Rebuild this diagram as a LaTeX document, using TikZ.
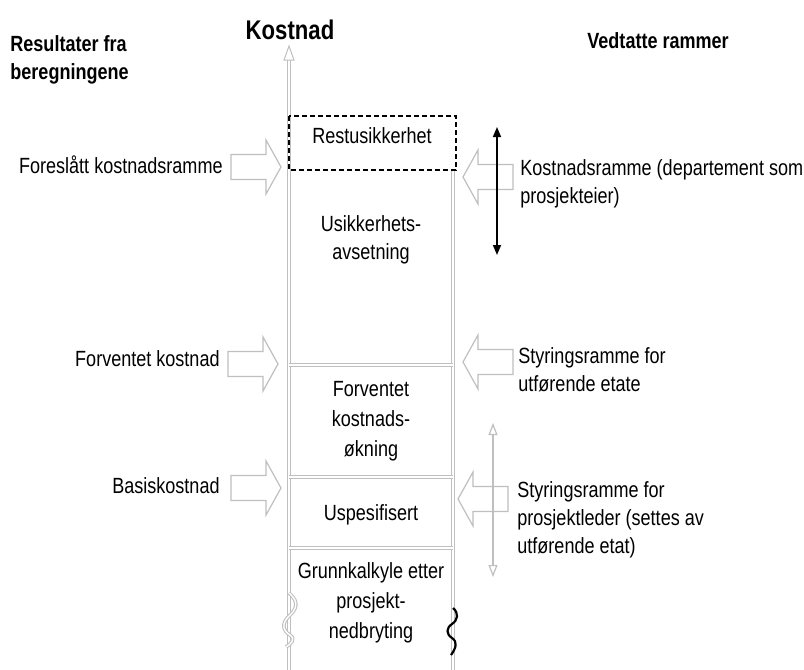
\documentclass[tikz,border=0pt]{standalone}
\usepackage{fontspec}
\setmainfont{Liberation Sans}[FakeStretch=0.82]
\usetikzlibrary{arrows.meta}
\newcommand\blockArrowRight[2]{%
  \draw[blockarrow] ({#1-50},{#2-12.5}) -- ({#1-15},{#2-12.5}) -- ({#1-15},{#2-27}) -- (#1,#2)
    -- ({#1-15},{#2+27}) -- ({#1-15},{#2+12.5}) -- ({#1-50},{#2+12.5}) -- cycle;}
\newcommand\blockArrowLeft[2]{%
  \draw[blockarrow] ({#1+50},{#2-12.5}) -- ({#1+15},{#2-12.5}) -- ({#1+15},{#2-27}) -- (#1,#2)
    -- ({#1+15},{#2+27}) -- ({#1+15},{#2+12.5}) -- ({#1+50},{#2+12.5}) -- cycle;}
\begin{document}
\begin{tikzpicture}[x=0.5pt,y=-0.5pt,
  lbl/.style={font=\fontsize{11}{14}\selectfont, inner sep=0pt},
  collbl/.style={font=\fontsize{11}{15}\selectfont, inner sep=0pt},
  hdr/.style={font=\fontsize{11}{14}\selectfont\bfseries, inner sep=0pt},
  colline/.style={draw=gray!50, double=white, line width=0.55pt, double distance=0.7pt},
  blockarrow/.style={draw=gray!50, line width=0.6pt, fill=white},
  dashbox/.style={draw=black, line width=0.9pt, dash pattern=on 2.5pt off 1.5pt},
]
\useasboundingbox (0,0) rectangle (804,670);
% coordinates
\coordinate (axB) at (289,670);
\coordinate (axT) at (289,60);
\coordinate (rT) at (453,170);
\coordinate (rB) at (453,670);
% column lines
\draw[colline] (axB) -- (axT);
\draw[colline] (rT) -- (rB);
\draw[draw=gray!50, line width=0.5pt, fill=white] (284,60) -- (289,46) -- (294,60) -- cycle;
\coordinate (s1L) at (289,365); \coordinate (s1R) at (453,365);
\coordinate (s2L) at (289,477); \coordinate (s2R) at (453,477);
\coordinate (s3L) at (289,548); \coordinate (s3R) at (453,548);
\draw[colline] (s1L) -- (s1R);
\draw[colline] (s2L) -- (s2R);
\draw[colline] (s3L) -- (s3R);
% dashed box
\draw[dashbox] (289,116) rectangle (456,170);
% wavy lines
\draw[colline]
  (289,593) .. controls (300,602) and (296,610) .. (289,616)
  .. controls (282,623) and (282,630) .. (290,635)
  .. controls (296,639) and (291,644) .. (286,647);
\draw[black, line width=1.1pt]
  (453,608) .. controls (459,613) and (458,620) .. (452,624)
  .. controls (446,628) and (446,634) .. (452,638)
  .. controls (458,642) and (456,648) .. (451,655);
% block arrows
\blockArrowRight{281}{167}
\blockArrowRight{278}{364}
\blockArrowRight{281}{488}
\blockArrowLeft{463}{177}
\blockArrowLeft{463}{362}
\blockArrowLeft{458}{499}
% vertical double arrows
\coordinate (baT) at (497,127); \coordinate (baB) at (497,255);
\draw[black, line width=0.8pt, {Triangle[length=5pt,width=4pt]}-{Triangle[length=5pt,width=4pt]}] (baT) -- (baB);
\coordinate (gaT) at (493,423); \coordinate (gaB) at (493,577);
\draw[gray!50, line width=0.6pt, {Triangle[open,length=6pt,width=4.5pt]}-{Triangle[open,length=6pt,width=4.5pt]}] (gaT) -- (gaB);
% headers
\node[hdr, font=\fontsize{13.5}{16}\selectfont\bfseries, anchor=base] (kostnad) at (290,39) {Kostnad};
\node[hdr, anchor=north west, align=left] (resultater) at (10,35) {Resultater fra\\beregningene};
\node[hdr, anchor=base west] (vedtatte) at (587,48) {Vedtatte rammer};
% column texts
\node[lbl, anchor=base] (rest) at (372,143) {Restusikkerhet};
\node[lbl, anchor=north, align=center] (usik) at (371,215) {Usikkerhets-\\avsetning};
\node[collbl, anchor=north, align=center] (forv) at (371,381) {Forventet\\kostnads-\\økning};
\node[lbl, anchor=base] (uspes) at (371,520) {Uspesifisert};
\node[collbl, anchor=north, align=center] (grunn) at (371,562) {Grunnkalkyle etter\\prosjekt-\\nedbryting};
% left labels
\node[lbl, anchor=base east] (foreslatt) at (223,173) {Foreslått kostnadsramme};
\node[lbl, anchor=base east] (forvkost) at (220,366) {Forventet kostnad};
\node[lbl, anchor=base east] (basis) at (220,493) {Basiskostnad};
% right labels
\node[lbl, anchor=north west, align=left] (kramme) at (520,159) {Kostnadsramme (departement som\\prosjekteier)};
\node[lbl, anchor=north west, align=left] (styr1) at (518,347) {Styringsramme for\\utførende etate};
\node[lbl, anchor=north west, align=left] (styr2) at (517,481) {Styringsramme for\\prosjektleder (settes av\\utførende etat)};
\end{tikzpicture}
\end{document}
